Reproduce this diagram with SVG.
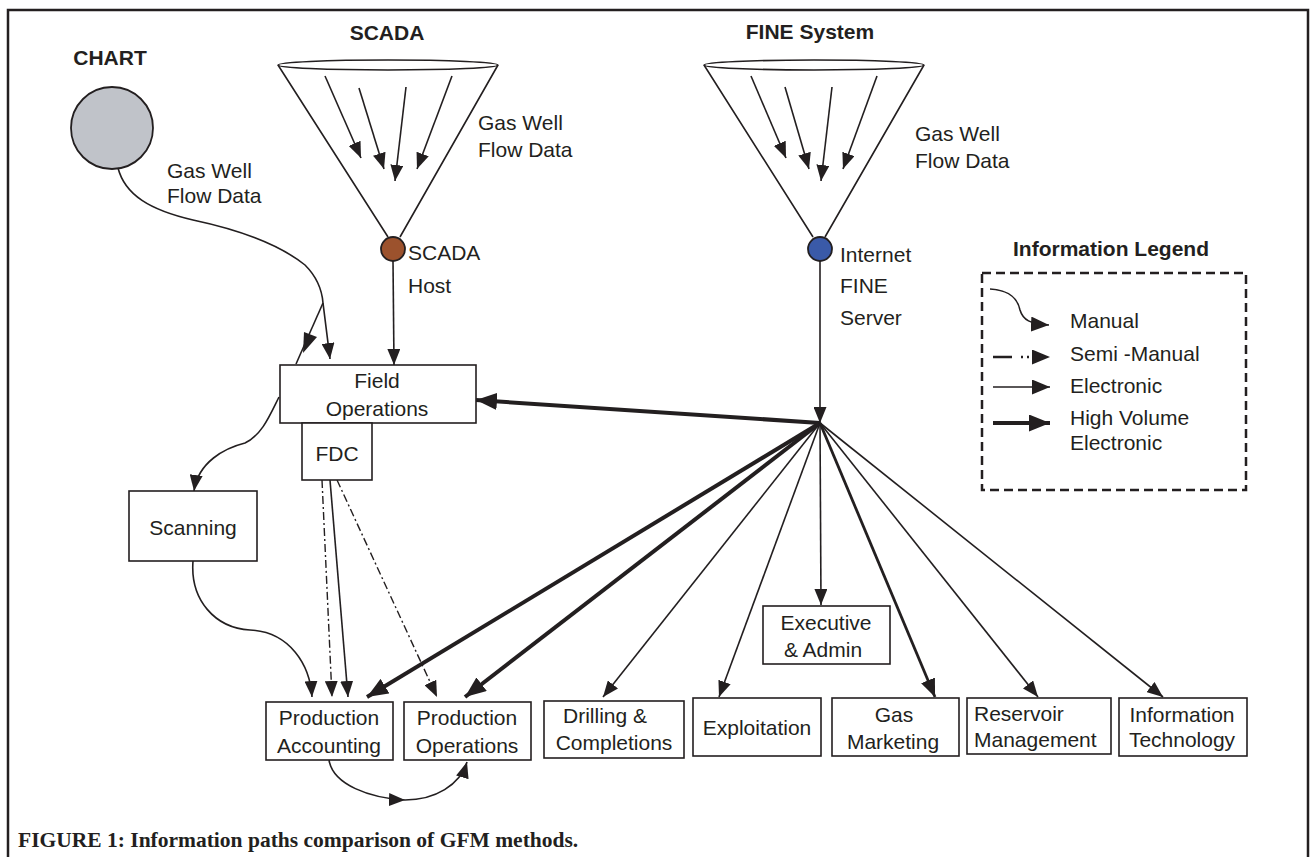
<svg xmlns="http://www.w3.org/2000/svg" width="1310" height="857" viewBox="0 0 1310 857">
<defs>
<style>
text{font-family:"Liberation Sans",Arial,sans-serif;font-size:21px;fill:#231f20}
.b{font-weight:bold}
.m{text-anchor:middle}
.cap{font-family:"Liberation Serif","Times New Roman",serif;font-weight:bold;font-size:21.5px}
.box{fill:#fff;stroke:#231f20;stroke-width:1.6}
.ln{fill:none;stroke:#231f20;stroke-width:1.6}
.thin{fill:none;stroke:#231f20;stroke-width:1.6;marker-end:url(#ah)}
.med{fill:none;stroke:#231f20;stroke-width:2.8;marker-end:url(#ahM)}
.thick{fill:none;stroke:#231f20;stroke-width:4;marker-end:url(#ahT)}
.dd{fill:none;stroke:#231f20;stroke-width:1.4;stroke-dasharray:8 3 2 3;marker-end:url(#ah)}
</style>
<marker id="ah" viewBox="0 0 16 13" refX="16" refY="6.5" markerWidth="16" markerHeight="13" markerUnits="userSpaceOnUse" orient="auto"><path d="M0,0 L16,6.5 L0,13 z" fill="#231f20"/></marker>
<marker id="ahM" viewBox="0 0 18 15" refX="18" refY="7.5" markerWidth="18" markerHeight="15" markerUnits="userSpaceOnUse" orient="auto"><path d="M0,0 L18,7.5 L0,15 z" fill="#231f20"/></marker>
<marker id="ahT" viewBox="0 0 21 17" refX="21" refY="8.5" markerWidth="21" markerHeight="17" markerUnits="userSpaceOnUse" orient="auto"><path d="M0,0 L21,8.5 L0,17 z" fill="#231f20"/></marker>
</defs>
<rect width="1310" height="857" fill="#fff"/>
<path d="M8,857 V10 H1308 V857" fill="none" stroke="#231f20" stroke-width="2.5"/>

<g id="chart">
<text class="b m" x="110" y="65">CHART</text>
<circle cx="112" cy="128" r="41" fill="#c0c3c9" stroke="#231f20" stroke-width="1.8"/>
<text x="167" y="178">Gas Well</text>
<text x="167" y="203">Flow Data</text>
</g>

<g id="scada">
<text class="b m" x="387" y="40">SCADA</text>
<ellipse cx="388" cy="65" rx="110" ry="5" class="ln"/>
<path class="ln" d="M278,65 L388,237 M498,65 L400,237"/>
<path class="thin" d="M325,76 L361,158"/>
<path class="thin" d="M359,88 L384,169"/>
<path class="thin" d="M406,87 L395,181"/>
<path class="thin" d="M452,76 L417,169"/>
<text x="478" y="130">Gas Well</text>
<text x="478" y="157">Flow Data</text>
</g>

<g id="scada-host">
<circle cx="393" cy="249" r="12" fill="#9c522d" stroke="#231f20" stroke-width="1.8"/>
<text x="408" y="260">SCADA</text>
<text x="408" y="293">Host</text>
</g>

<g id="fine">
<text class="b m" x="810" y="39">FINE System</text>
<ellipse cx="814" cy="65" rx="110" ry="5" class="ln"/>
<path class="ln" d="M704,65 L813,237 M924,65 L825,237"/>
<path class="thin" d="M751,76 L786,158"/>
<path class="thin" d="M785,87 L809,169"/>
<path class="thin" d="M832,87 L821,181"/>
<path class="thin" d="M877,76 L843,169"/>
<text x="915" y="141">Gas Well</text>
<text x="915" y="168">Flow Data</text>
</g>

<g id="fine-server">
<circle cx="820" cy="249" r="12" fill="#3a5aa8" stroke="#231f20" stroke-width="1.8"/>
<text x="840" y="262">Internet</text>
<text x="840" y="293">FINE</text>
<text x="840" y="325">Server</text>
</g>

<g id="legend">
<text class="b m" x="1111" y="256">Information Legend</text>
<rect x="982" y="273" width="264" height="217" fill="none" stroke="#231f20" stroke-width="2.5" stroke-dasharray="9 5"/>
<path d="M990,289 C1010,290 1018,300 1020,310 C1023,320 1030,324 1049,325" fill="none" stroke="#231f20" stroke-width="1.6" marker-end="url(#ahM)"/>
<path d="M993,357 H1050" fill="none" stroke="#231f20" stroke-width="2.5" stroke-dasharray="19 9 2 4 2 40" marker-end="url(#ahM)"/>
<path d="M993,387 H1050" fill="none" stroke="#231f20" stroke-width="1.6" marker-end="url(#ahM)"/>
<path d="M993,423 H1050" fill="none" stroke="#231f20" stroke-width="4" marker-end="url(#ahT)"/>
<text x="1070" y="328">Manual</text>
<text x="1070" y="361">Semi -Manual</text>
<text x="1070" y="393">Electronic</text>
<text x="1070" y="425">High Volume</text>
<text x="1070" y="450">Electronic</text>
</g>

<g id="connectors">
<path class="ln" d="M118,168 C125,195 150,210 193,220 C240,230 280,245 305,265 C318,278 322,290 323,303"/>
<path class="thin" d="M323,303 L330,359"/>
<path class="ln" d="M323,303 L296,364"/>
<path d="M317,337 L303,353 L304,332 z" fill="#231f20"/>
<path class="thin" d="M279,397 C270,415 262,435 245,443 C225,448 198,462 194,491"/>
<path class="thin" d="M393,261 L394,365"/>
<path class="thin" d="M820,261 L820,423"/>
<path class="thick" d="M820,423 L476,400"/>
<path class="thick" d="M820,423 L367,697"/>
<path class="thick" d="M820,423 L465,697"/>
<path class="thin" d="M820,423 L603,697"/>
<path class="thin" d="M820,423 L719,697"/>
<path class="thin" d="M820,423 L821,605"/>
<path class="med" d="M820,423 L935,697"/>
<path class="thin" d="M820,423 L1038,697"/>
<path class="thin" d="M820,423 L1163,697"/>
<path class="dd" d="M322,480 L332,697"/>
<path class="thin" d="M330,480 L348,697"/>
<path class="dd" d="M337,480 L437,697"/>
<path class="thin" d="M193,561 C190,600 215,628 250,630 C290,632 310,665 312,697"/>
<path class="ln" d="M329,760 C333,785 370,798 405,800 C435,800 460,785 467,762" marker-mid="url(#ah)" marker-end="url(#ah)"/>
</g>

<g id="field-operations">
<rect class="box" x="280" y="365" width="196" height="58"/>
<text class="m" x="377" y="388">Field</text>
<text class="m" x="377" y="416">Operations</text>
</g>
<g id="fdc">
<rect class="box" x="302" y="423" width="70" height="57"/>
<text class="m" x="337" y="461">FDC</text>
</g>
<g id="scanning">
<rect class="box" x="129" y="491" width="128" height="70"/>
<text class="m" x="193" y="535">Scanning</text>
</g>
<g id="production-accounting">
<rect class="box" x="266" y="702" width="127" height="58"/>
<text class="m" x="329" y="725">Production</text>
<text class="m" x="329" y="753">Accounting</text>
</g>
<g id="production-operations">
<rect class="box" x="404" y="702" width="127" height="58"/>
<text class="m" x="467" y="725">Production</text>
<text class="m" x="467" y="753">Operations</text>
</g>
<g id="drilling-completions">
<rect class="box" x="544" y="701" width="140" height="57"/>
<text class="m" x="605" y="723">Drilling &amp;</text>
<text class="m" x="614" y="750">Completions</text>
</g>
<g id="executive-admin">
<rect class="box" x="763" y="606" width="127" height="58"/>
<text class="m" x="826" y="630">Executive</text>
<text class="m" x="823" y="657">&amp; Admin</text>
</g>
<g id="exploitation">
<rect class="box" x="693" y="698" width="128" height="58"/>
<text class="m" x="757" y="735">Exploitation</text>
</g>
<g id="gas-marketing">
<rect class="box" x="832" y="698" width="127" height="58"/>
<text class="m" x="894" y="722">Gas</text>
<text class="m" x="893" y="749">Marketing</text>
</g>
<g id="reservoir-management">
<rect class="box" x="967" y="698" width="144" height="56"/>
<text x="974" y="721">Reservoir</text>
<text x="974" y="747">Management</text>
</g>
<g id="information-technology">
<rect class="box" x="1119" y="698" width="128" height="58"/>
<text class="m" x="1182" y="722">Information</text>
<text class="m" x="1182" y="747">Technology</text>
</g>

<text class="cap" x="18" y="847">FIGURE 1: Information paths comparison of GFM methods.</text>
</svg>
